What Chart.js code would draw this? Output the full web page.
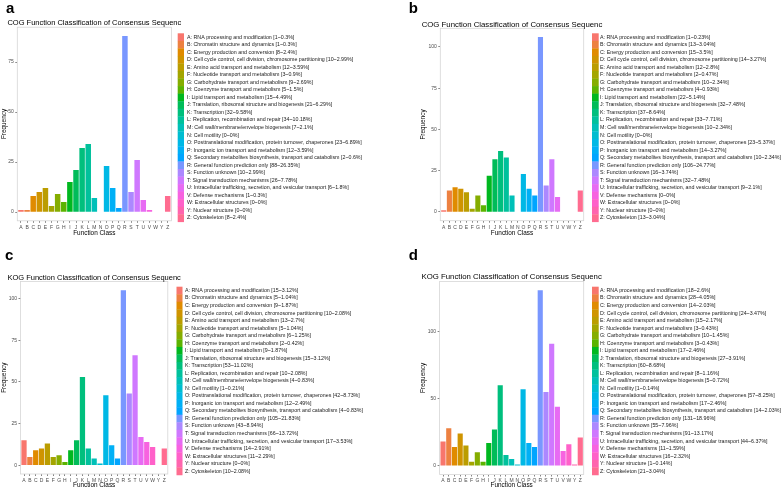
<!DOCTYPE html>
<html>
<head>
<meta charset="utf-8">
<script src="https://cdn.jsdelivr.net/npm/chart.js@4/dist/chart.umd.min.js"></script>
<style>
	body { margin: 0; background: #fff; }
	.panel { position: absolute; width: 392px; height: 245px; }
</style>
</head>
<body>
<div class="panel" style="left:0;top:0"><canvas id="chartA" width="392" height="245"></canvas></div>
<div class="panel" style="left:392px;top:0"><canvas id="chartB" width="392" height="245"></canvas></div>
<div class="panel" style="left:0;top:245px"><canvas id="chartC" width="392" height="245"></canvas></div>
<div class="panel" style="left:392px;top:245px"><canvas id="chartD" width="392" height="245"></canvas></div>
<script>
const classes = ['A', 'B', 'C', 'D', 'E', 'F', 'G', 'H', 'I', 'J', 'K', 'L', 'M', 'N', 'O', 'P', 'Q', 'R', 'S', 'T', 'U', 'V', 'W', 'Y', 'Z']

const classNames = [
	'RNA processing and modification',
	'Chromatin structure and dynamics',
	'Energy production and conversion',
	'Cell cycle control, cell division, chromosome partitioning',
	'Amino acid transport and metabolism',
	'Nucleotide transport and metabolism',
	'Carbohydrate transport and metabolism',
	'Coenzyme transport and metabolism',
	'Lipid transport and metabolism',
	'Translation, ribosomal structure and biogenesis',
	'Transcription',
	'Replication, recombination and repair',
	'Cell wall/membrane/envelope biogenesis',
	'Cell motility',
	'Posttranslational modification, protein turnover, chaperones',
	'Inorganic ion transport and metabolism',
	'Secondary metabolites biosynthesis, transport and catabolism',
	'General function prediction only',
	'Function unknown',
	'Signal transduction mechanisms',
	'Intracellular trafficking, secretion, and vesicular transport',
	'Defense mechanisms',
	'Extracellular structures',
	'Nuclear structure',
	'Cytoskeleton'
]

const countsA = [1, 1, 8, 10, 12, 3, 9, 5, 15, 21, 32, 34, 7, 0, 23, 12, 2, 88, 10, 26, 6, 1, 0, 0, 8]
const countsB = [1, 13, 15, 14, 12, 2, 10, 4, 22, 32, 37, 33, 10, 0, 23, 14, 10, 106, 16, 32, 9, 0, 0, 0, 13]
const countsC = [15, 5, 9, 10, 13, 5, 6, 2, 9, 15, 53, 10, 4, 1, 42, 12, 4, 105, 43, 66, 17, 14, 11, 0, 10]
const countsD = [18, 28, 14, 24, 15, 3, 10, 3, 17, 27, 60, 8, 5, 1, 57, 17, 14, 131, 55, 91, 44, 11, 16, 1, 21]

const yTicksA = [0, 25, 50, 75]
const yTicksB = [0, 25, 50, 75, 100]
const yTicksC = [0, 25, 50, 75, 100]
const yTicksD = [0, 50, 100]

const cogTitle = 'COG Function Classification of Consensus Sequenc'
const kogTitle = 'KOG Function Classification of Consensus Sequenc'

const FONT = '"Liberation Sans", Arial, sans-serif'

// ggplot default hue palette (hcl, c = 100, l = 65)
function hcl(h, c, l) {
	const hr = h * Math.PI / 180
	const Xn = 95.047, Yn = 100, Zn = 108.883
	const den = Xn + 15 * Yn + 3 * Zn
	const un = 4 * Xn / den, vn = 9 * Yn / den
	const Y = Yn * Math.pow((l + 16) / 116, 3)
	const u = c * Math.cos(hr) / (13 * l) + un
	const v = c * Math.sin(hr) / (13 * l) + vn
	const X = 9 * Y * u / (4 * v)
	const Z = -X / 3 - 5 * Y + 3 * Y / v
	const x = X / 100, y = Y / 100, z = Z / 100
	const lin = [
		3.240479 * x - 1.53715 * y - 0.498535 * z,
		-0.969256 * x + 1.875992 * y + 0.041556 * z,
		0.055648 * x - 0.204043 * y + 1.057311 * z
	]
	const rgb = lin.map(t => {
		const g = t <= 0.0031308 ? 12.92 * t : 1.055 * Math.pow(t, 1 / 2.4) - 0.055
		return Math.round(Math.min(1, Math.max(0, g)) * 255)
	})
	return `rgb(${rgb.join(',')})`
}
const palette = classes.map((_, i) => hcl(15 + i * 14.4, 100, 65))

function legendLines(counts) {
	const total = counts.reduce((s, v) => s + v, 0)
	return classes.map((c, i) => {
		const pct = Math.round(counts[i] / total * 10000) / 100
		return `${c}: ${classNames[i]} [${counts[i]}~${pct}%]`
	})
}

function decorPlugin(p) {
	return {
		id: 'decor',
		afterDraw(chart) {
			const { ctx, chartArea: a } = chart
			ctx.save()
			ctx.strokeStyle = '#d6d6d6'
			ctx.lineWidth = 0.8
			ctx.strokeRect(a.left, a.top, a.right - a.left, a.bottom - a.top)

			ctx.fillStyle = '#000'
			ctx.font = `bold 15px ${FONT}`
			ctx.textAlign = 'left'
			ctx.textBaseline = 'alphabetic'
			ctx.fillText(p.letter, p.letterX, p.letterY)

			ctx.font = `${p.titleSize}px ${FONT}`
			ctx.textAlign = 'center'
			ctx.textBaseline = 'middle'
			ctx.fillText(p.title, (a.left + a.right) / 2, p.titleY)

			const lines = legendLines(p.counts)
			ctx.font = `5.3px ${FONT}`
			ctx.textAlign = 'left'
			lines.forEach((txt, i) => {
				const y = p.keyTop + i * p.keyH
				ctx.fillStyle = palette[i]
				ctx.fillRect(p.keyX, y, p.keyW, p.keyH + 0.3)
				ctx.fillStyle = '#1a1a1a'
				ctx.fillText(txt, p.textX, y + p.keyH / 2)
			})
			ctx.restore()
		}
	}
}

const panels = [
	{ id: 'chartA', letter: 'a', title: cogTitle, counts: countsA, ticks: yTicksA, letterX: 6, letterY: 13.3, titleY: 23.3, titleSize: 7.5,
		left: 17.3, right: 171.4, top: 27.2, bottom: 220.8, padLeft: 0, xTitle: 12.7, keyX: 177.7, keyW: 6.3, keyTop: 33.3, keyH: 7.54, textX: 187 },
	{ id: 'chartB', letter: 'b', title: cogTitle, counts: countsB, ticks: yTicksB, letterX: 16.7, letterY: 13.3, titleY: 25, titleSize: 7.8,
		left: 48.3, right: 191.7, top: 28.3, bottom: 220.7, padLeft: 27, xTitle: 12.3, keyX: 200, keyW: 6.7, keyTop: 33.3, keyH: 7.54, textX: 208 },
	{ id: 'chartC', letter: 'c', title: kogTitle, counts: countsC, ticks: yTicksC, letterX: 5, letterY: 15, titleY: 32.7, titleSize: 7.5,
		left: 20.5, right: 167.8, top: 36.5, bottom: 229, padLeft: 0, xTitle: 11.7, keyX: 176.5, keyW: 6, keyTop: 41.7, keyH: 7.53, textX: 185 },
	{ id: 'chartD', letter: 'd', title: kogTitle, counts: countsD, ticks: yTicksD, letterX: 16.7, letterY: 15, titleY: 32.3, titleSize: 7.8,
		left: 47.6, right: 191.7, top: 36.4, bottom: 229.5, padLeft: 27, xTitle: 11.2, keyX: 200, keyW: 6.7, keyTop: 41.7, keyH: 7.53, textX: 208 }
]

panels.forEach(p => {
	const max = Math.max(...p.counts)
	const xh = p.xTitle + 3.84
	new Chart(document.getElementById(p.id), {
		type: 'bar',
		data: {
			datasets: [{
				data: p.counts.map((v, i) => ({ x: i, y: v })),
				backgroundColor: palette,
				borderWidth: 0,
				barPercentage: 0.9,
				categoryPercentage: 1
			}]
		},
		options: {
			responsive: false,
			animation: false,
			devicePixelRatio: 1,
			layout: {
				padding: { left: p.padLeft, top: p.top, right: 392 - p.right, bottom: 245 - p.bottom - xh }
			},
			scales: {
				x: {
					type: 'linear',
					offset: false,
					min: -0.6,
					max: classes.length - 0.4,
					afterBuildTicks: s => { s.ticks = classes.map((_, i) => ({ value: i })) },
					afterFit: s => { s.height = xh },
					ticks: {
						autoSkip: false,
						maxRotation: 0,
						padding: 1.5,
						color: '#4d4d4d',
						font: { family: FONT, size: 5 },
						callback: v => classes[v]
					},
					grid: { offset: false, drawOnChartArea: false, tickLength: 2, color: '#333', lineWidth: 0.6 },
					border: { display: false },
					title: { display: true, text: 'Function Class', color: '#000', font: { family: FONT, size: 6.4 }, padding: { top: 0, bottom: 0 } }
				},
				y: {
					min: -0.05 * max,
					max: 1.05 * max,
					afterBuildTicks: s => { s.ticks = p.ticks.map(v => ({ value: v })) },
					afterFit: s => { s.width = p.left - p.padLeft },
					ticks: {
						padding: 1.5,
						color: '#4d4d4d',
						font: { family: FONT, size: 5 }
					},
					grid: { drawOnChartArea: false, tickLength: 2, color: '#333', lineWidth: 0.6 },
					border: { display: false },
					title: { display: true, text: 'Frequency', color: '#000', font: { family: FONT, size: 6.4 }, padding: { top: 0.8, bottom: 0 } }
				}
			},
			plugins: {
				legend: { display: false },
				tooltip: { enabled: false }
			}
		},
		plugins: [decorPlugin(p)]
	})
})
</script>
</body>
</html>
